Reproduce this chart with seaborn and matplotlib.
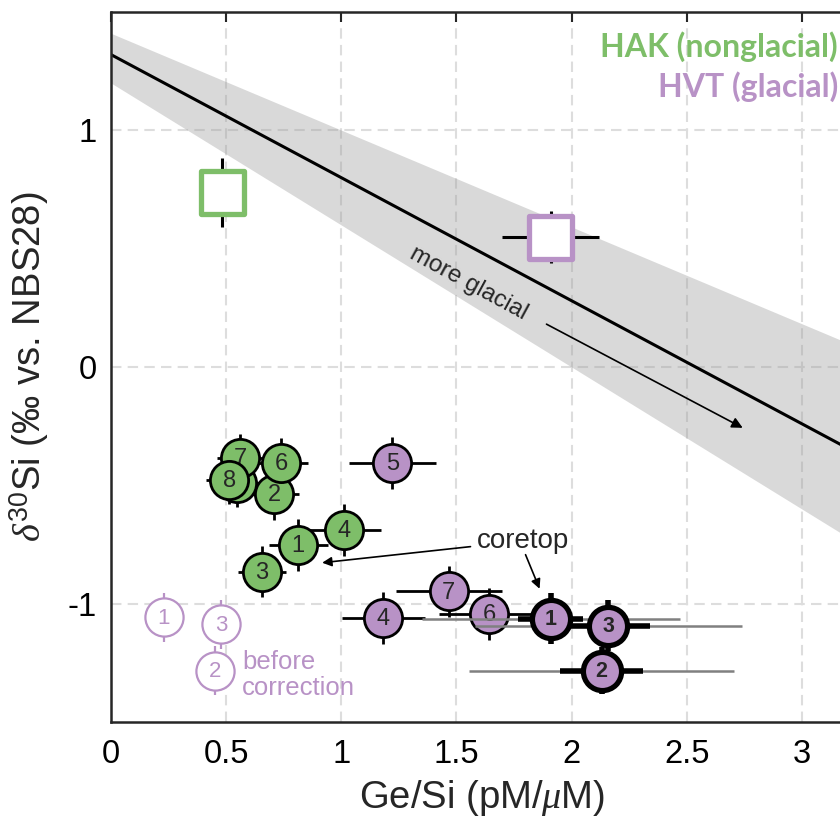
import matplotlib
matplotlib.use("Agg")
import matplotlib.pyplot as plt
import seaborn as sns
import numpy as np
import pandas as pd

# ---------------- data ----------------
# HAK (nonglacial) samples
hak_id = ["1", "2", "3", "4", "5", "6", "7", "8"]
hak_x = [0.813, 0.709, 0.656, 1.013, 0.545, 0.739, 0.561, 0.513]
hak_y = [-0.751, -0.536, -0.865, -0.688, -0.49, -0.405, -0.384, -0.477]
hak_xerr = [0.128, 0.108, 0.105, 0.16, 0.10, 0.118, 0.10, 0.10]
hak_yerr = [0.11, 0.11, 0.108, 0.11, 0.10, 0.105, 0.10, 0.10]
hak_label_visible = [True, True, True, True, False, True, True, True]

# HVT (glacial) samples, corrected
hvt_id = ["1", "2", "3", "4", "5", "6", "7"]
hvt_x = [1.909, 2.13, 2.16, 1.183, 1.222, 1.643, 1.466]
hvt_y = [-1.063, -1.283, -1.093, -1.06, -0.405, -1.042, -0.948]
hvt_xerr = [0.14, 0.18, 0.18, 0.18, 0.19, 0.22, 0.23]
hvt_yerr = [0.107, 0.10, 0.107, 0.11, 0.11, 0.11, 0.107]
hvt_xerr_wide = [0.56, 0.575, 0.58, 0.0, 0.0, 0.0, 0.0]
hvt_coretop = [True, True, True, False, False, False, False]

# HVT before correction
pre_id = ["1", "2", "3"]
pre_x = [0.23, 0.452, 0.478]
pre_y = [-1.058, -1.283, -1.088]
pre_yerr = [0.105, 0.105, 0.105]

# reference squares
sq_name = ["HAK", "HVT"]
sq_x = [0.483, 1.909]
sq_y = [0.738, 0.549]
sq_xerr = [0.0, 0.21]
sq_yerr = [0.146, 0.11]

# calibration line and band
cal_x = [0.0, 3.3]
cal_y = [1.32, -0.396]
band_hi = [1.41, 0.06]
band_lo = [1.20, -0.78]

xticks = [0, 0.5, 1, 1.5, 2, 2.5, 3]
xticklabels = ["0", "0.5", "1", "1.5", "2", "2.5", "3"]
yticks = [-1, 0, 1]
yticklabels = ["-1", "0", "1"]

# ---------------- style ----------------
GREEN = "#7ebe69"
PURPLE = "#b892c6"
AXC = "#262626"
CIRC_S = 27.5 ** 2
XMAX = 3.22

sns.set_theme(style="white")
plt.rcParams["font.family"] = ["Liberation Sans", "DejaVu Sans"]
plt.rcParams["mathtext.fontset"] = "custom"
plt.rcParams["mathtext.rm"] = "Liberation Sans"
plt.rcParams["mathtext.it"] = "Liberation Serif:italic"

fig = plt.figure(figsize=(8.4, 8.24), dpi=100)
ax = fig.add_axes([111 / 840, (824 - 722) / 824, XMAX * 230.3 / 840, 710 / 824])
ax.set_xlim(0, XMAX)
ax.set_ylim(-1.5, 1.5)

# grid
ax.set_axisbelow(True)
ax.grid(True, color="#dddddd", linestyle=(0, (5, 3)), linewidth=1.5)

# band + line
ax.fill_between(cal_x, band_lo, band_hi, color="#9c9c9c", alpha=0.38, linewidth=0, zorder=1)
sns.lineplot(x=cal_x, y=cal_y, ax=ax, color="black", linewidth=2.2, zorder=2)

# squares
ax.errorbar(sq_x, sq_y, xerr=sq_xerr, yerr=sq_yerr, fmt="none", ecolor="black",
            elinewidth=2.2, capsize=0, zorder=3)
sq_df = pd.DataFrame({"x": sq_x, "y": sq_y, "name": sq_name})
sns.scatterplot(data=sq_df, x="x", y="y", hue="name", palette={"HAK": GREEN, "HVT": PURPLE},
                marker="s", s=31 ** 2, linewidth=0, legend=False, ax=ax, zorder=4)
ax.collections[-1].set_facecolor("white")
ax.collections[-1].set_edgecolor([GREEN, PURPLE])
ax.collections[-1].set_linewidth(3.8)

# before-correction points
ax.errorbar(pre_x, pre_y, yerr=pre_yerr, fmt="none", ecolor=PURPLE, elinewidth=1.6,
            capsize=0, zorder=3)
sns.scatterplot(x=pre_x, y=pre_y, s=CIRC_S, color="white", edgecolor=PURPLE,
                linewidth=1.6, ax=ax, zorder=4, legend=False)
for i, xv, yv in zip(pre_id, pre_x, pre_y):
    ax.text(xv, yv - 0.004, i, color=PURPLE, fontsize=16, ha="center", va="center", zorder=5)
ax.text(0.57, -1.195, "before\ncorrection", color=PURPLE, fontsize=18.5, ha="left",
        va="top", linespacing=1.12, zorder=5)

# HAK points
ax.errorbar(hak_x, hak_y, xerr=hak_xerr, yerr=hak_yerr, fmt="none", ecolor="black",
            elinewidth=2.0, capsize=0, zorder=6)
for k in range(len(hak_x)):
    z = 7 + 0.01 * k
    sns.scatterplot(x=[hak_x[k]], y=[hak_y[k]], s=CIRC_S, color=GREEN, edgecolor="black",
                    linewidth=2.0, ax=ax, zorder=z, legend=False)
    if hak_label_visible[k]:
        ax.text(hak_x[k], hak_y[k] - 0.005, hak_id[k], fontsize=17, ha="center",
                va="center", zorder=z + 0.005)

# HVT points (non-coretop)
reg = [k for k in range(len(hvt_x)) if not hvt_coretop[k]]
core = [k for k in range(len(hvt_x)) if hvt_coretop[k]]
ax.errorbar([hvt_x[k] for k in reg], [hvt_y[k] for k in reg],
            xerr=[hvt_xerr[k] for k in reg], yerr=[hvt_yerr[k] for k in reg],
            fmt="none", ecolor="black", elinewidth=2.0, capsize=0, zorder=6)
sns.scatterplot(x=[hvt_x[k] for k in reg], y=[hvt_y[k] for k in reg], s=CIRC_S,
                color=PURPLE, edgecolor="black", linewidth=2.0, ax=ax, zorder=7, legend=False)
for k in reg:
    ax.text(hvt_x[k], hvt_y[k] - 0.005, hvt_id[k], fontsize=17, ha="center", va="center",
            zorder=7.5)

# coretop HVT points with wide grey range
ax.errorbar([hvt_x[k] for k in core], [hvt_y[k] for k in core],
            xerr=[hvt_xerr_wide[k] for k in core], fmt="none", ecolor="#808080",
            elinewidth=1.8, capsize=0, zorder=8)
ax.errorbar([hvt_x[k] for k in core], [hvt_y[k] for k in core],
            xerr=[hvt_xerr[k] for k in core], yerr=[hvt_yerr[k] for k in core],
            fmt="none", ecolor="black", elinewidth=4.0, capsize=0, zorder=9)
sns.scatterplot(x=[hvt_x[k] for k in core], y=[hvt_y[k] for k in core], s=CIRC_S,
                color=PURPLE, edgecolor="black", linewidth=3.8, ax=ax, zorder=10, legend=False)
for k in core:
    ax.text(hvt_x[k], hvt_y[k] - 0.005, hvt_id[k], fontsize=15.5, fontweight="bold",
            ha="center", va="center", zorder=11)

# annotations
ax.text(1.552, 0.354, "more glacial", fontsize=17.5, rotation=-28.5, ha="center",
        va="center", rotation_mode="anchor", zorder=5)
ax.annotate("", xy=(2.743, -0.257), xytext=(1.891, 0.181),
            arrowprops=dict(arrowstyle="-|>", color="black", lw=1.2, mutation_scale=16,
                            shrinkA=0, shrinkB=0), zorder=5)
ax.text(1.79, -0.735, "coretop", fontsize=20, ha="center", va="center", zorder=12)
ax.annotate("", xy=(0.917, -0.827), xytext=(1.561, -0.759),
            arrowprops=dict(arrowstyle="-|>", color="black", lw=1.2, mutation_scale=14,
                            shrinkA=0, shrinkB=0), zorder=12)
ax.annotate("", xy=(1.861, -0.937), xytext=(1.80, -0.793),
            arrowprops=dict(arrowstyle="-|>", color="black", lw=1.2, mutation_scale=14,
                            shrinkA=0, shrinkB=0), zorder=12)

# legend-like labels
fig.text(838 / 840, 1 - 47 / 824, "HAK (nonglacial)", color=GREEN, fontsize=23,
         fontweight="bold", family=["Lato", "DejaVu Sans"], ha="right", va="center")
fig.text(838 / 840, 1 - 87 / 824, "HVT (glacial)", color=PURPLE, fontsize=23,
         fontweight="bold", family=["Lato", "DejaVu Sans"], ha="right", va="center")

# axes styling
ax.set_xticks(xticks)
ax.set_xticklabels(xticklabels)
ax.set_yticks(yticks)
ax.set_yticklabels(yticklabels)
ax.tick_params(axis="both", direction="in", length=7, width=1.5, colors=AXC,
               labelsize=23.5, top=True, right=True, labelcolor="black")
ax.tick_params(axis="x", pad=12)
ax.tick_params(axis="y", pad=10)
for sp in ax.spines.values():
    sp.set_color(AXC)
    sp.set_linewidth(1.8)
ax.set_xlabel(r"Ge/Si (pM/$\mu$M)", fontsize=27.5, labelpad=6)
ax.set_ylabel(r"$\delta^{30}$Si (‰ vs. NBS28)", fontsize=27.5, labelpad=12)

fig.savefig("out.png", dpi=100)
